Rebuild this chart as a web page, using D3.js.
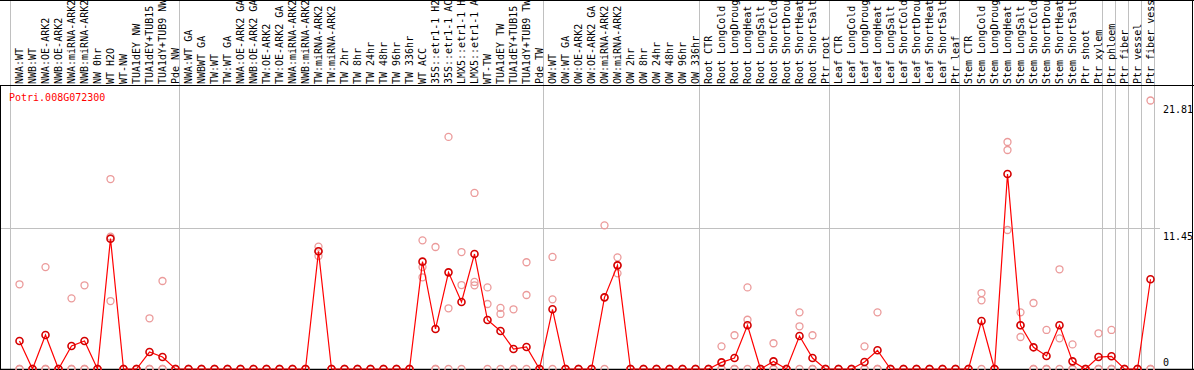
<!DOCTYPE html>
<html lang="en">
<head>
    <meta charset="UTF-8">
    <title>Potri.008G072300</title>
    <script src="https://cdn.jsdelivr.net/npm/d3@7"></script>
    <style>
        body { margin: 0; background: #fff; }
        text { font-family: "DejaVu Sans Mono", monospace; font-size: 10px; }
    </style>
</head>
<body>
<script>
    const geneName = 'Potri.008G072300'
    const categories = [
        'NWA:WT', 'NWB:WT', 'NWA:OE-ARK2', 'NWB:OE-ARK2', 'NWA:miRNA-ARK2', 'NWB:miRNA-ARK2', 'NW 0hr', 'WT H2O',
        'WT-NW', 'TUA1dEY NW', 'TUA1dEY+TUB15', 'TUA1dY+TUB9 NW', 'Pde NW',
        'NWA:WT GA', 'NWBWT GA', 'TW:WT', 'TW:WT GA', 'NWA:OE-ARK2 GA', 'NWB:OE-ARK2 GA', 'TW:OE-ARK2', 'TW:OE-ARK2 GA',
        'NWA:miRNA-ARK2 ', 'NWB:miRNA-ARK2 ', 'TW:miRNA-ARK2', 'TW:miRNA-ARK2 ', 'TW 2hr', 'TW 8hr', 'TW 24hr', 'TW 48hr',
        'TW 96hr', 'TW 336hr', 'WT ACC', '35S::etr1-1 H2O', '35S::etr1-1 ACC', 'LMX5::etr1-1 H2O', 'LMX5::etr1-1 ACC',
        'WT-TW', 'TUA1dEY TW', 'TUA1dEY+TUB15 ', 'TUA1dY+TUB9 TW', 'Pde TW',
        'OW:WT', 'OW:WT GA', 'OW:OE-ARK2', 'OW:OE-ARK2 GA', 'OW:miRNA-ARK2', 'OW:miRNA-ARK2 ', 'OW 2hr', 'OW 8hr',
        'OW 24hr', 'OW 48hr', 'OW 96hr', 'OW 336hr',
        'Root CTR', 'Root LongCold', 'Root LongDrought', 'Root LongHeat', 'Root LongSalt', 'Root ShortCold',
        'Root ShortDrought', 'Root ShortHeat', 'Root ShortSalt', 'Ptr root',
        'Leaf CTR', 'Leaf LongCold', 'Leaf LongDrought', 'Leaf LongHeat', 'Leaf LongSalt', 'Leaf ShortCold',
        'Leaf ShortDrought', 'Leaf ShortHeat', 'Leaf ShortSalt', 'Ptr leaf',
        'Stem CTR', 'Stem LongCold', 'Stem LongDrought', 'Stem LongHeat', 'Stem LongSalt', 'Stem ShortCold',
        'Stem ShortDrought', 'Stem ShortHeat', 'Stem ShortSalt', 'Ptr shoot', 'Ptr xylem',
        'Ptr phloem', 'Ptr fiber', 'Ptr vessel', 'Ptr fiber vessel'
    ]
    // index of first category in each group (separator lines)
    const groupStarts = [0, 13, 41, 53, 63, 73, 84, 85, 86, 87]
    const means = [
        2.27, 0, 2.76, 0, 1.87, 2.27, 0, 10.59, 0, 0, 1.38, 0.97, 0,
        0, 0, 0, 0, 0, 0, 0, 0, 0, 0, 9.56, 0, 0, 0, 0, 0, 0, 0, 8.72, 3.25, 7.85, 5.44, 9.34, 3.98, 3.09, 1.62, 1.79, 0,
        4.85, 0, 0, 0, 5.82, 8.42, 0, 0, 0, 0, 0, 0,
        0, 0.54, 0.89, 3.55, 0, 0.62, 0, 2.68, 0.89, 0,
        0, 0, 0.57, 1.52, 0, 0, 0, 0, 0, 0,
        0, 3.9, 0, 15.84, 3.55, 1.76, 1.06, 3.55, 0.62, 0, 0.97,
        1.03, 0, 0, 7.29
    ]
    const replicates = [
        [6.88, 0, 0], [0, 0, 0], [8.28, 0, 0], [0, 0, 0], [5.74, 0, 0], [6.8, 0, 0], [0, 0, 0], [15.43, 10.75, 5.52],
        [0, 0, 0], [0, 0, 0], [4.12, 0, 0], [7.15, 0, 0], [0, 0, 0],
        [0, 0, 0], [0, 0, 0], [0, 0, 0], [0, 0, 0], [0, 0, 0], [0, 0, 0], [0, 0, 0], [0, 0, 0],
        [0, 0, 0], [0, 0, 0], [9.94, 9.56, 9.18], [0, 0, 0], [0, 0, 0], [0, 0, 0], [0, 0, 0], [0, 0, 0],
        [0, 0, 0], [0, 0, 0], [10.45, 8.28, 7.45], [9.91, 0, 0], [18.85, 4.93, 0], [9.5, 6.82, 0], [14.3, 7.07, 6.8],
        [6.63, 5.28, 0], [4.96, 4.47, 0], [4.85, 0, 0], [8.67, 6.01, 0], [0, 0, 0],
        [9.1, 5.66, 0], [0, 0, 0], [0, 0, 0], [0, 0, 0], [11.67, 5.82, 0], [9.07, 8.42, 7.77], [0, 0, 0], [0, 0, 0],
        [0, 0, 0], [0, 0, 0], [0, 0, 0], [0, 0, 0],
        [0, 0, 0], [1.84, 0, 0], [2.74, 0, 0], [6.63, 4.0, 0], [0, 0, 0], [2.09, 0, 0],
        [0, 0, 0], [4.6, 3.47, 0], [2.74, 0, 0], [0, 0, 0],
        [0, 0, 0], [0, 0, 0], [1.84, 0, 0], [4.6, 0, 0], [0, 0, 0], [0, 0, 0],
        [0, 0, 0], [0, 0, 0], [0, 0, 0], [0, 0, 0],
        [0, 0, 0], [6.17, 5.58, 0], [0, 0, 0], [18.44, 17.79, 11.29], [4.6, 3.55, 2.6], [5.36, 0, 0],
        [3.17, 0, 0], [8.1, 2.49, 0], [2.0, 0, 0], [0, 0, 0], [2.9, 0, 0],
        [3.17, 0, 0], [0, 0, 0], [0, 0, 0], [21.81, 0, 0]
    ]
    const yTicks = [0, 11.45, 21.81]

    const [width, height] = [1194, 370]
    const headerY = 85.5, baseY = 369
    const maxChars = 14  // header only has room for this many characters

    const x = d3.scaleBand()
        .domain(categories)
        .range([10.5, 1154.5])
    const px = d => x(d) + 9
    const y = d3.scaleLinear()
        .domain([0, 21.81])
        .range([baseY, 100.5])

    const svg = d3.select('body').append('svg')
        .attr('width', width)
        .attr('height', height)

    // vertical group separators
    svg.selectAll('line.sep').data(groupStarts.map(i => x(categories[i])).concat([x.range()[1]]))
        .enter().append('line').attr('class', 'sep')
        .attr('x1', d => d).attr('x2', d => d)
        .attr('y1', 0).attr('y2', baseY)
        .attr('stroke', '#c0c0c0')

    // horizontal grid line at middle tick
    svg.append('line')
        .attr('x1', 0).attr('x2', 1160)
        .attr('y1', Math.round(y(11.45)) + 0.5).attr('y2', Math.round(y(11.45)) + 0.5)
        .attr('stroke', '#c0c0c0')

    // frame
    svg.append('line').attr('x1', 0).attr('x2', width).attr('y1', 0.5).attr('y2', 0.5).attr('stroke', '#000')
    svg.append('line').attr('x1', 0).attr('x2', width).attr('y1', headerY).attr('y2', headerY).attr('stroke', '#000')
    svg.append('line').attr('x1', 0).attr('x2', width).attr('y1', baseY + 0.5).attr('y2', baseY + 0.5)
        .attr('stroke', '#000').attr('stroke-width', 1.5)
    svg.append('line').attr('x1', 0.5).attr('x2', 0.5).attr('y1', headerY).attr('y2', height).attr('stroke', '#000')
    svg.append('line').attr('x1', width - 1.5).attr('x2', width - 1.5).attr('y1', 0).attr('y2', height).attr('stroke', '#000')

    // column labels
    svg.selectAll('text.cat').data(categories).enter()
        .append('text').attr('class', 'cat')
        .attr('transform', d => `translate(${px(d) + 3},84) rotate(-90)`)
        .text(d => d.trim().slice(0, maxChars))

    // gene name
    svg.append('text')
        .attr('x', 9).attr('y', 101)
        .attr('fill', '#ff0000')
        .text(geneName)

    // right hand value labels
    svg.selectAll('text.tick').data(yTicks).enter()
        .append('text').attr('class', 'tick')
        .attr('x', 1163)
        .attr('y', d => d === 0 ? y(d) - 3 : y(d) + 12)
        .text(d => d === 0 ? '0' : d.toFixed(2))

    // replicate circles
    const reps = []
    categories.forEach((c, i) => replicates[i].forEach(v => reps.push({c, v})))
    svg.selectAll('circle.rep').data(reps).enter()
        .append('circle').attr('class', 'rep')
        .attr('cx', d => px(d.c))
        .attr('cy', d => y(d.v))
        .attr('r', 3.5)
        .attr('fill', 'none')
        .attr('stroke', '#eb9a9a')
        .attr('stroke-width', 1.3)

    // mean line
    const line = d3.line()
        .x((d, i) => px(categories[i]))
        .y(d => y(d))
    svg.append('path')
        .attr('d', line(means))
        .attr('fill', 'none')
        .attr('stroke', '#ff0000')
        .attr('stroke-width', 1.2)

    svg.selectAll('circle.mean').data(means).enter()
        .append('circle').attr('class', 'mean')
        .attr('cx', (d, i) => px(categories[i]))
        .attr('cy', d => y(d))
        .attr('r', 3.5)
        .attr('fill', 'none')
        .attr('stroke', '#d40000')
        .attr('stroke-width', 1.6)
</script>
</body>
</html>
